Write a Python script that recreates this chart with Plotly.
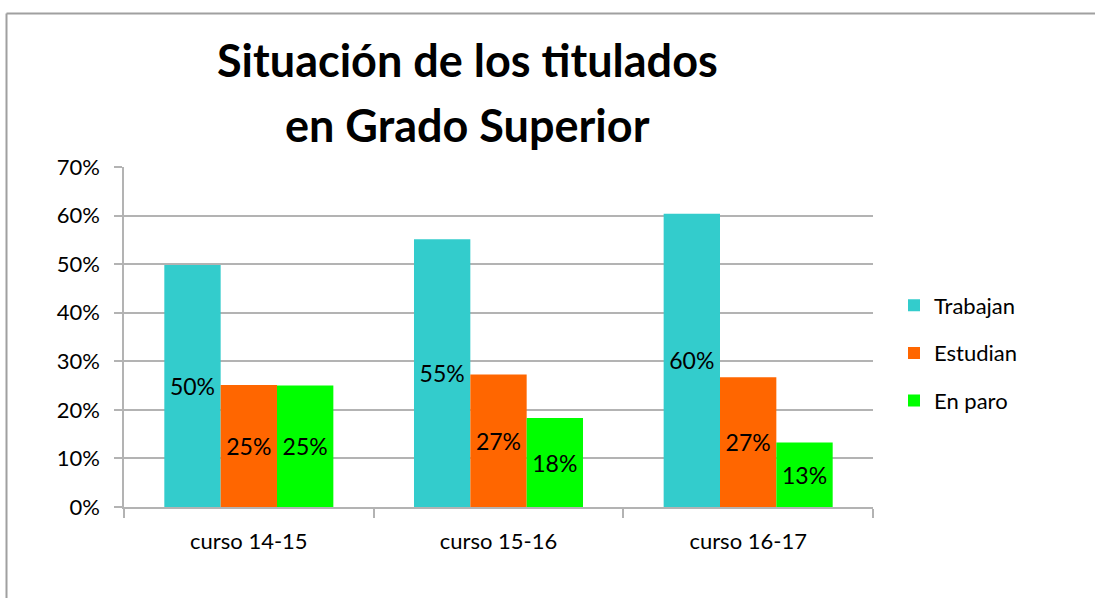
import plotly.graph_objects as go

categories = ["curso 14-15", "curso 15-16", "curso 16-17"]
trabajan = [0.498, 0.551, 0.604]
estudian = [0.251, 0.273, 0.267]
en_paro = [0.25, 0.183, 0.133]
y_ticks = [0, 0.1, 0.2, 0.3, 0.4, 0.5, 0.6, 0.7]
y_tick_labels = ["0%", "10%", "20%", "30%", "40%", "50%", "60%", "70%"]
title_lines = ["Situación de los titulados", "en Grado Superior"]

FONT = "Lato, 'Open Sans', sans-serif"
W, H = 1095, 598
L, R, T, B = 124, 222, 167, 91
pw, ph = W - L - R, H - T - B

series = [("Trabajan", trabajan, "#33CCCC"),
          ("Estudian", estudian, "#FF6600"),
          ("En paro", en_paro, "#00FF00")]

fig = go.Figure()
for name, vals, col in series:
    fig.add_trace(go.Bar(
        x=categories, y=vals, name=name, legendgroup=name,
        marker=dict(color=col, line=dict(width=0)),
        texttemplate="%{y:.0%}", textposition="inside",
        insidetextanchor="middle", textangle=0,
        textfont=dict(family=FONT, size=23, color="black"),
        constraintext="none",
    ))

def px_x(p):
    return (p - L) / pw

def px_y(p):
    return (H - B - p) / ph

annotations = []
for i, line in enumerate(title_lines):
    annotations.append(dict(
        text="<b>" + line + "</b>", x=px_x(467), y=px_y(60 + 65 * i),
        xref="paper", yref="paper", xanchor="center", yanchor="middle",
        showarrow=False, font=dict(family=FONT, size=45, color="black")))

fig.update_layout(
    width=W, height=H,
    margin=dict(l=L, r=R, t=T, b=B),
    paper_bgcolor="white", plot_bgcolor="white",
    barmode="group", bargap=0.323, bargroupgap=0,
    font=dict(family=FONT, size=22, color="black"),
    annotations=annotations,
    legend=dict(x=px_x(894), y=px_y(353), xanchor="left", yanchor="middle",
                font=dict(family=FONT, size=22, color="black"),
                tracegroupgap=16, itemwidth=30,
                bgcolor="rgba(0,0,0,0)"),
    shapes=[
        dict(type="line", xref="paper", yref="paper",
             x0=px_x(6.5), x1=px_x(1100), y0=px_y(13.5), y1=px_y(13.5),
             line=dict(color="#a0a0a0", width=2)),
        dict(type="line", xref="paper", yref="paper",
             x0=px_x(6.5), x1=px_x(6.5), y0=px_y(13.5), y1=px_y(605),
             line=dict(color="#a0a0a0", width=2)),
    ],
)
fig.update_xaxes(
    showline=True, linecolor="#b3b3b3", linewidth=1.5,
    ticks="outside", tickson="boundaries", ticklen=9, tickcolor="#b3b3b3",
    tickwidth=1.5, ticklabelstandoff=14,
    tickfont=dict(family=FONT, size=22, color="black"),
    showgrid=False,
)
fig.update_yaxes(
    range=[0, 0.7], tickvals=y_ticks, ticktext=y_tick_labels,
    showline=True, linecolor="#b3b3b3", linewidth=1.5,
    showgrid=True, gridcolor="#b3b3b3", gridwidth=1.5,
    ticks="outside", ticklen=8, tickcolor="#b3b3b3", tickwidth=1.5,
    ticklabelstandoff=10, zeroline=False,
    tickfont=dict(family=FONT, size=22, color="black"),
)
fig.write_html("out.html",
               config={"displayModeBar": False},
               post_script="document.body.style.margin='0px';document.body.style.overflow='hidden';")
